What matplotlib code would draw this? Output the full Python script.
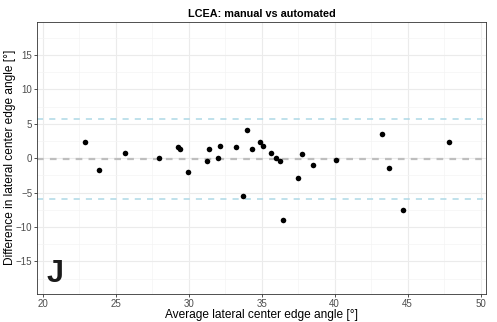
import matplotlib
matplotlib.use("Agg")
import matplotlib.pyplot as plt
import numpy as np

# Bland-Altman data
avg_lcea = [22.88, 23.88, 25.64, 27.99, 29.27, 29.40, 29.97, 31.23, 31.37, 31.99,
            32.12, 33.24, 33.74, 33.97, 34.36, 34.86, 35.11, 35.62, 36.00, 36.25,
            36.48, 37.49, 37.74, 38.49, 40.11, 43.22, 43.72, 44.70, 47.83]
diff_lcea = [2.33, -1.70, 0.81, 0.04, 1.60, 1.31, -1.95, -0.44, 1.31, 0.09,
             1.83, 1.60, -5.43, 4.07, 1.31, 2.33, 1.83, 0.81, 0.09, -0.44,
             -8.97, -2.90, 0.58, -0.93, -0.20, 3.53, -1.45, -7.47, 2.33]
mean_diff = -0.14
upper_loa = 5.67
lower_loa = -5.87

x_ticks = [20, 25, 30, 35, 40, 45, 50]
y_ticks = [-15, -10, -5, 0, 5, 10, 15]

plt.rcParams['font.family'] = ['Liberation Sans', 'DejaVu Sans']

fig = plt.figure(figsize=(4.97, 3.22), dpi=100)
ax = fig.add_axes([0.075, 0.087, 0.902, 0.846])

ax.set_xticks(x_ticks)
ax.set_yticks(y_ticks)
ax.set_xticks(np.arange(22.5, 50, 5), minor=True)
ax.set_yticks(np.arange(-17.5, 20, 5), minor=True)
# limits after ticks so set_ticks does not widen them
ax.set_xlim(19.63, 50.34)
ax.set_ylim(-19.72, 19.85)

ax.grid(True, which='major', color='#EBEBEB', linewidth=0.8, zorder=0)
ax.grid(True, which='minor', color='#F4F4F4', linewidth=0.5, zorder=0)
ax.tick_params(which='minor', length=0)
ax.tick_params(which='major', length=2.5, width=0.6, color='#333333',
               labelsize=7, labelcolor='#4D4D4D', pad=1)
for sp in ax.spines.values():
    sp.set_color('#333333')
    sp.set_linewidth(0.6)
ax.set_axisbelow(True)

ax.axhline(upper_loa, color='#ADD8E6', linewidth=1.1, dashes=(4, 4), zorder=1)
ax.axhline(lower_loa, color='#ADD8E6', linewidth=1.1, dashes=(4, 4), zorder=1)
ax.axhline(mean_diff, color='#BEBEBE', linewidth=1.6, dashes=(3, 2.8), zorder=1)

ax.scatter(avg_lcea, diff_lcea, s=16, color='black', zorder=3, linewidths=0)

ax.text(20.88, -16.8, 'J', fontsize=22, fontweight='bold', ha='center', va='center',
        color='#1A1A1A')

ax.set_title('LCEA: manual vs automated', fontsize=7.8, fontweight='bold', pad=3.5)
ax.set_xlabel('Average lateral center edge angle [°]', fontsize=8.6, labelpad=0)
ax.set_ylabel('Difference in lateral center edge angle [°]', fontsize=8.6, labelpad=0)

fig.savefig('out.png', dpi=100)
